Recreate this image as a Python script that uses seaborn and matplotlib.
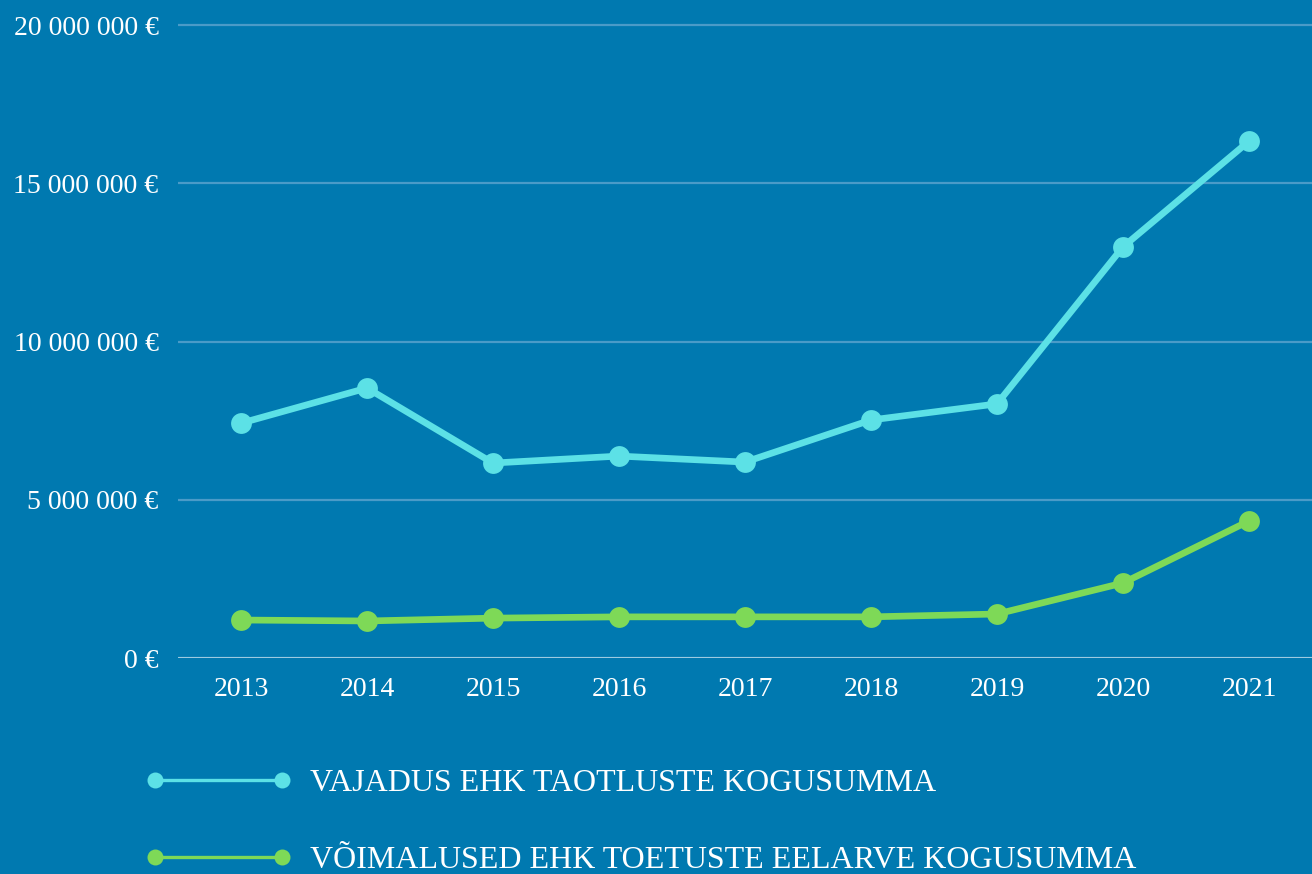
import pandas as pd
import numpy as np
import matplotlib.pyplot as plt
import seaborn as sns
from matplotlib.lines import Line2D
from matplotlib.ticker import FuncFormatter

# andmed
aastad = ['2013', '2014', '2015', '2016', '2017', '2018', '2019', '2020', '2021']
vajadus = [7.42e6, 8.53e6, 6.16e6, 6.38e6, 6.19e6, 7.52e6, 8.03e6, 12.99e6, 16.33e6]
voimalused = [1.20e6, 1.17e6, 1.26e6, 1.30e6, 1.30e6, 1.30e6, 1.39e6, 2.37e6, 4.33e6]
seeria_nimed = ['VAJADUS EHK TAOTLUSTE KOGUSUMMA', 'VÕIMALUSED EHK TOETUSTE EELARVE KOGUSUMMA']
varvid = ['#5CE1E6', '#7ED957']

taust = '#0079B0'

df = pd.DataFrame({
    'aasta': aastad * 2,
    'summa': vajadus + voimalused,
    'seeria': [seeria_nimed[0]] * len(aastad) + [seeria_nimed[1]] * len(aastad),
})

sns.set_style('white')
plt.rcParams['font.family'] = ['Liberation Serif', 'DejaVu Serif']

fig = plt.figure(figsize=(13.12, 8.74), dpi=100, facecolor=taust)
ax = fig.add_axes([178 / 1312, 216 / 874, 1 - 178 / 1312, 648.8 / 874])
ax.set_facecolor(taust)

sns.lineplot(data=df, x='aasta', y='summa', hue='seeria', palette=varvid,
             marker='o', markersize=15, markeredgewidth=0, linewidth=4.8,
             legend=False, ax=ax, zorder=3)

ax.set_xlim(-0.5, 8.5)
ax.set_ylim(0, 20.5e6)
ax.set_yticks([0, 5e6, 10e6, 15e6, 20e6])
ax.yaxis.set_major_formatter(FuncFormatter(lambda v, p: f'{int(v):,}'.replace(',', ' ') + ' €'))
ax.grid(axis='y', color='#4A9BC8', linewidth=1.6)
ax.axhline(0, color='#9CCBE1', linewidth=2.2, zorder=2)
ax.set_xlabel('')
ax.set_ylabel('')
for s in ax.spines.values():
    s.set_visible(False)
ax.tick_params(axis='both', length=0, colors='white', labelsize=20)
ax.tick_params(axis='y', pad=14)
ax.tick_params(axis='x', pad=14)

# legend
kasitsejad = [Line2D([0], [0], color=c, linewidth=2.4, marker='o', markersize=11.5,
                     markeredgewidth=0) for c in varvid]
leg = fig.legend(kasitsejad, seeria_nimed, loc='center left', bbox_to_anchor=(117 / 1312, 52 / 874),
                 frameon=False, fontsize=23, numpoints=2, handlelength=4.55,
                 handletextpad=0.6, labelspacing=1.5)
for t in leg.get_texts():
    t.set_color('white')

fig.savefig('out.png', dpi=100, facecolor=taust)
